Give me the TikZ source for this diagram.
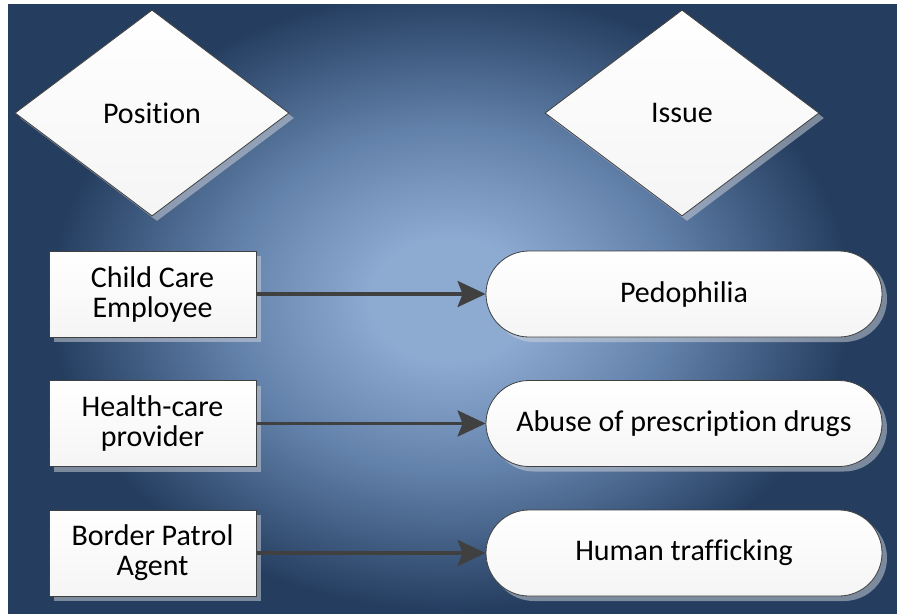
\documentclass[tikz,border=0pt]{standalone}
\usepackage{fontspec}
\setmainfont{Carlito}[Ligatures={NoCommon,NoContextual}]
\usetikzlibrary{shapes.geometric,shadows,arrows.meta}
\definecolor{bgdark}{RGB}{37,62,96}
\definecolor{bgmid}{RGB}{98,129,170}
\definecolor{bglight}{RGB}{141,170,209}
\definecolor{edgec}{RGB}{64,64,64}
\definecolor{shadowc}{RGB}{212,214,220}
\pgfdeclareradialshading{bgshade}{\pgfpoint{0bp}{0bp}}{color(0bp)=(bglight); color(5bp)=(bglight); color(14bp)=(bgmid); color(25bp)=(bgdark); color(50bp)=(bgdark)}
\tikzset{
  shapebase/.style={draw=edgec, line width=0.8pt, top color=white, bottom color=gray!8,
    drop shadow={shadow xshift=5pt, shadow yshift=-5pt, fill=shadowc, opacity=0.5}},
  diamondbox/.style={shapebase, diamond, minimum width=274pt, minimum height=206pt, inner sep=0pt},
  posbox/.style={shapebase, rectangle, minimum width=207pt, minimum height=86pt, inner sep=0pt, align=center},
  issuebox/.style={shapebase, rectangle, rounded corners=43pt, minimum width=396pt, minimum height=86pt, inner sep=0pt},
  arrowline/.style={draw=edgec, line width=3.5pt, -{Stealth[length=28pt,width=26pt,inset=5pt]}}
}
\begin{document}
\begin{tikzpicture}[x=1pt,y=-1pt, font=\fontsize{30}{30}\selectfont]
\useasboundingbox (0,0) rectangle (897,614);
\fill[white] (0,0) rectangle (897,614);
\begin{scope}
\clip (8,4) rectangle (897,614);
\fill[bgdark] (8,4) rectangle (897,614);
\shade[shading=bgshade] (450,300) ellipse [x radius=400, y radius=310];
\end{scope}
\node[diamondbox] (pos) at (152,113) {Position};
\node[diamondbox] (iss) at (682,113) {Issue};
\node[posbox] (p1) at (152.5,294) {Child Care\\Employee};
\node[posbox] (p2) at (152.5,423.5) {Health-care\\provider};
\node[posbox] (p3) at (152.5,553) {Border Patrol\\Agent};
\node[issuebox] (i1) at (684,294) {Pedophilia};
\node[issuebox] (i2) at (684,423.5) {Abuse of prescription drugs};
\node[issuebox] (i3) at (684,553) {Human trafficking};
\draw[arrowline] (p1.east) -- (i1.west);
\draw[arrowline] (p2.east) -- (i2.west);
\draw[arrowline] (p3.east) -- (i3.west);
\end{tikzpicture}
\end{document}
